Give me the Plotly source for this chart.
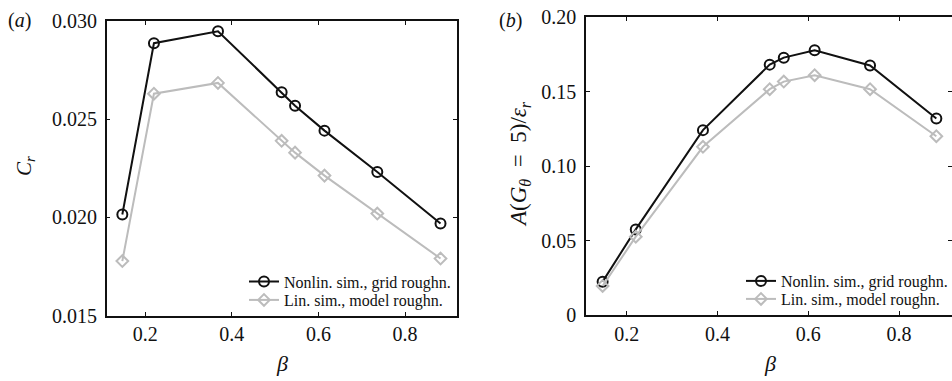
import plotly.graph_objects as go

# Roughness-parameter sweep: beta values shared by both panels
beta = [0.147, 0.220, 0.368, 0.515, 0.546, 0.614, 0.736, 0.882]

# (a) C_r
cr_nonlin = [0.02015, 0.02887, 0.02948, 0.02637, 0.02569, 0.02442, 0.02231, 0.01969]
cr_lin = [0.01778, 0.02630, 0.02685, 0.02390, 0.02330, 0.02213, 0.02020, 0.01791]

# (b) A(G_theta = 5)/eps_r
amp_nonlin = [0.0224, 0.0575, 0.1242, 0.1682, 0.1729, 0.1779, 0.1676, 0.1320]
amp_lin = [0.0195, 0.0526, 0.1130, 0.1517, 0.1568, 0.1611, 0.1517, 0.1201]

name_nonlin = "Nonlin. sim., grid roughn."
name_lin = "Lin. sim., model roughn."

x_ticks = [0.2, 0.4, 0.6, 0.8]
x_ticktext = ["0.2", "0.4", "0.6", "0.8"]
ya_ticks = [0.015, 0.020, 0.025, 0.030]
ya_ticktext = ["0.015", "0.020", "0.025", "0.030"]
yb_ticks = [0, 0.05, 0.10, 0.15, 0.20]
yb_ticktext = ["0", "0.05", "0.10", "0.15", "0.20"]

W, H = 952, 381
FONT = "Liberation Serif"
BLACK = "#111111"
GREY = "#bcbcbc"

fig = go.Figure()


def add_pair(xref, yref, y_nl, y_l, leg_nl, leg_l):
    fig.add_trace(go.Scatter(
        x=beta, y=y_nl, name=name_nonlin, mode="lines+markers",
        xaxis=xref, yaxis=yref, legend=leg_nl,
        line=dict(color=BLACK, width=2),
        marker=dict(symbol="circle-open", size=10, color=BLACK, line=dict(width=2, color=BLACK)),
    ))
    fig.add_trace(go.Scatter(
        x=beta, y=y_l, name=name_lin, mode="lines+markers",
        xaxis=xref, yaxis=yref, legend=leg_l,
        line=dict(color=GREY, width=2),
        marker=dict(symbol="diamond-open", size=9, color=GREY, line=dict(width=2, color=GREY)),
    ))


add_pair("x", "y", cr_nonlin, cr_lin, "legend", "legend2")
add_pair("x2", "y2", amp_nonlin, amp_lin, "legend3", "legend4")

axis_common = dict(
    showline=True, linecolor=BLACK, linewidth=1.5, mirror="ticks",
    ticks="inside", ticklen=4, tickwidth=1, tickcolor=BLACK,
    showgrid=False, zeroline=False, automargin=False,
    tickfont=dict(family=FONT, size=20, color=BLACK),
)


def legend_at(px, py):
    return dict(
        x=px / W, y=1 - py / H, xanchor="left", yanchor="middle",
        bgcolor="rgba(0,0,0,0)", borderwidth=0,
        font=dict(family=FONT, size=16, color=BLACK),
    )


fig.update_layout(
    template="none",
    width=W, height=H, autosize=False,
    margin=dict(l=0, r=0, t=0, b=0, pad=0, autoexpand=False),
    paper_bgcolor="white", plot_bgcolor="white",
    font=dict(family=FONT, color=BLACK),
    showlegend=True,
    xaxis=dict(domain=[106.7 / W, 456.7 / W], range=[0.1109, 0.9194],
               tickvals=x_ticks, ticktext=x_ticktext, anchor="y", **axis_common),
    yaxis=dict(domain=[(H - 315.7) / H, (H - 21) / H], range=[0.015, 0.030],
               tickvals=ya_ticks, ticktext=ya_ticktext, anchor="x",
               ticklabelstandoff=4, **axis_common),
    xaxis2=dict(domain=[586 / W, 1.0], range=[0.1104, 0.9165],
                tickvals=x_ticks, ticktext=x_ticktext, anchor="y2", **axis_common),
    yaxis2=dict(domain=[(H - 315) / H, (H - 17.3) / H], range=[0, 0.20],
                tickvals=yb_ticks, ticktext=yb_ticktext, anchor="x2",
                ticklabelstandoff=4, **axis_common),
    legend=legend_at(244, 281.5),
    legend2=legend_at(244, 300),
    legend3=legend_at(741, 281),
    legend4=legend_at(741, 299),
)


def label(text, px, py, size=20, angle=0):
    fig.add_annotation(
        text=text, x=px / W, y=1 - py / H, xref="paper", yref="paper",
        showarrow=False, textangle=angle, xanchor="center", yanchor="middle",
        font=dict(family=FONT, size=size, color=BLACK),
    )


label("(<i>a</i>)", 19, 20)
label("(<i>b</i>)", 510, 20)
label("<i>C<sub>r</sub></i>", 25, 166, size=21, angle=-90)
label("<i>β</i>", 282, 363, size=22)
label("<i>β</i>", 770, 363, size=22)
label("<i>A</i>(<i>G</i><sub><i>θ</i></sub>&nbsp;&nbsp;=&nbsp;&nbsp;5)/<i>ε</i><sub><i>r</i></sub>",
      520, 164, size=23, angle=-90)

fig.write_html("out.html")
